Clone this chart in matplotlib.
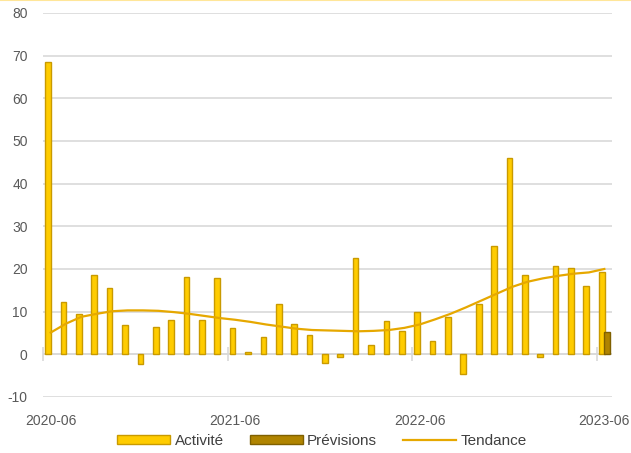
import matplotlib.pyplot as plt
from matplotlib.lines import Line2D
import numpy as np

plt.rcParams['font.family'] = ['Liberation Sans', 'DejaVu Sans']
plt.rcParams['axes.unicode_minus'] = False

months = [f'{y}-{m:02d}' for y, m in
          [(2020, m) for m in range(6, 13)] +
          [(2021, m) for m in range(1, 13)] +
          [(2022, m) for m in range(1, 13)] +
          [(2023, m) for m in range(1, 7)]]

activite = [68.5, 12.2, 9.5, 18.5, 15.6, 6.8, -2.2, 6.4, 8.1, 18.2, 8.0, 17.8,
            6.2, 0.5, 4.0, 11.7, 7.1, 4.6, -2.0, -0.7, 22.6, 2.3, 7.9, 5.4,
            10.0, 3.2, 8.8, -4.7, 11.7, 25.4, 46.0, 18.7, -0.7, 20.7, 20.3, 16.0,
            19.2]
previsions = [np.nan] * 36 + [5.2]
tendance = [5.1, 7.2, 8.8, 9.5, 10.1, 10.3, 10.3, 10.2, 9.9, 9.5, 9.0, 8.5,
            8.1, 7.6, 7.0, 6.5, 6.0, 5.7, 5.6, 5.5, 5.4, 5.5, 5.7, 6.2,
            7.0, 8.2, 9.5, 11.0, 12.6, 14.2, 15.8, 17.0, 17.8, 18.4, 18.9, 19.2,
            20.0]
label_months = ['2020-06', '2021-06', '2022-06', '2023-06']

x = np.arange(len(months))
fig = plt.figure(figsize=(6.31, 4.53), dpi=100)
ax = fig.add_axes([43 / 631, 1 - 397 / 453, 569 / 631, 384 / 453])

b1 = ax.bar(x - 0.17, activite, width=0.37, color='#FFCC00', edgecolor='#C99A00',
            linewidth=1.0, label='Activité', zorder=3)
b2 = ax.bar(x + 0.16, previsions, width=0.37, color='#B08400', edgecolor='#7F6000',
            linewidth=1.0, label='Prévisions', zorder=3)
l1, = ax.plot(x, tendance, color='#E6A800', linewidth=1.6, label='Tendance', zorder=4)

ax.set_ylim(-10, 80)
ax.set_xlim(-0.5, len(months) - 0.5)
ax.set_yticks(range(-10, 81, 10))
ax.grid(axis='y', color='#D9D9D9', linewidth=1.2, zorder=0)
ax.axhline(0, color='#D9D9D9', linewidth=1.2, zorder=1)
for s in ax.spines.values():
    s.set_visible(False)

# labels at category centres
idx = [months.index(m) for m in label_months]
ax.set_xticks(idx)
ax.set_xticklabels(label_months)
ax.tick_params(axis='both', length=0, labelsize=10, labelcolor='#595959')
ax.tick_params(axis='y', pad=11)
ax.tick_params(axis='x', pad=12)

# tick marks at category boundaries on the zero line
ymin, ymax = ax.get_ylim()
sec = ax.secondary_xaxis((0 - ymin) / (ymax - ymin))
sec.set_xticks([i - 0.5 for i in idx])
sec.set_xticklabels([])
sec.tick_params(direction='inout', length=10, width=1.2, color='#D9D9D9')
sec.spines['bottom'].set_visible(False)

fig.legend(handles=[b1, b2, l1], loc='center',
           bbox_to_anchor=(322 / 631, 1 - 441 / 453), ncol=3,
           frameon=False, fontsize=11, handlelength=3.45, handleheight=0.6,
           handletextpad=0.3, columnspacing=1.7, labelcolor='#404040')

fig.add_artist(Line2D([0, 1], [0.999, 0.999], transform=fig.transFigure,
                      color='#FFE699', linewidth=1.5))

fig.savefig('out.png', dpi=100)
